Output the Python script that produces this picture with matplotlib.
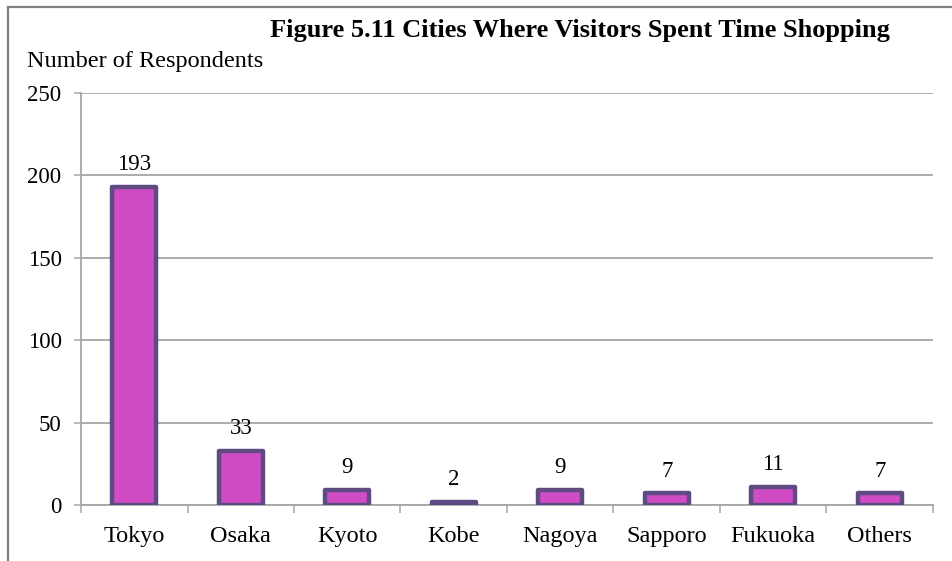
import matplotlib.pyplot as plt
from matplotlib.lines import Line2D

cities = ["Tokyo", "Osaka", "Kyoto", "Kobe", "Nagoya", "Sapporo", "Fukuoka", "Others"]
respondents = [193, 33, 9, 2, 9, 7, 11, 7]
y_ticks = [0, 50, 100, 150, 200, 250]

title = "Figure 5.11 Cities Where Visitors Spent Time Shopping"
y_label = "Number of Respondents"

BAR_FACE = "#D04CC4"
BAR_EDGE = "#604A82"
GRID = "#A6A6A6"


def main():
    plt.rcParams["font.family"] = ["Liberation Serif", "DejaVu Serif"]

    fig = plt.figure(figsize=(9.52, 5.61), dpi=100)
    ax = fig.add_axes([0.0851, 0.0998, 0.8949, 0.7344])

    x = range(len(cities))
    bars = ax.bar(x, respondents, width=0.41, color=BAR_FACE,
                  edgecolor=BAR_EDGE, linewidth=3.2, zorder=3)
    for patch in bars:
        patch.set_joinstyle("round")

    for xi, val in zip(x, respondents):
        ax.annotate(str(val), (xi, val), xytext=(0, 8.5), textcoords="offset points",
                    ha="center", va="bottom", fontsize=16.5)

    ax.set_xlim(-0.5, len(cities) - 0.5)
    ax.set_ylim(0, 250)
    ax.set_yticks(y_ticks)
    ax.yaxis.grid(True, color=GRID, linewidth=1.3, zorder=0)
    ax.set_axisbelow(True)

    ax.set_xticks(x)
    ax.set_xticklabels(cities, fontsize=17.5)
    ax.set_xticks([i - 0.5 for i in range(len(cities) + 1)], minor=True)
    ax.tick_params(axis="x", which="major", length=0, pad=15)
    ax.tick_params(axis="x", which="minor", length=6, width=1.1, color=GRID)
    ax.tick_params(axis="y", length=5, width=1.1, color=GRID, pad=9, labelsize=16.5)

    for side in ("top", "right"):
        ax.spines[side].set_visible(False)
    for side in ("left", "bottom"):
        ax.spines[side].set_color(GRID)
        ax.spines[side].set_linewidth(1.3)

    fig.text(0.609, 0.946, title, ha="center", va="center",
             fontsize=19, fontweight="bold")
    fig.text(0.028, 0.891, y_label, ha="left", va="center", fontsize=17.5)

    # outer chart frame: only the top and left edges sit inside the canvas
    fig.add_artist(Line2D([0.0085, 0.0085], [0.0, 0.9875], color="#808080",
                          linewidth=1.6, transform=fig.transFigure))
    fig.add_artist(Line2D([0.0085, 1.0], [0.9875, 0.9875], color="#808080",
                          linewidth=1.6, transform=fig.transFigure))

    fig.savefig("out.png", dpi=100, facecolor="white")


if __name__ == "__main__":
    main()
